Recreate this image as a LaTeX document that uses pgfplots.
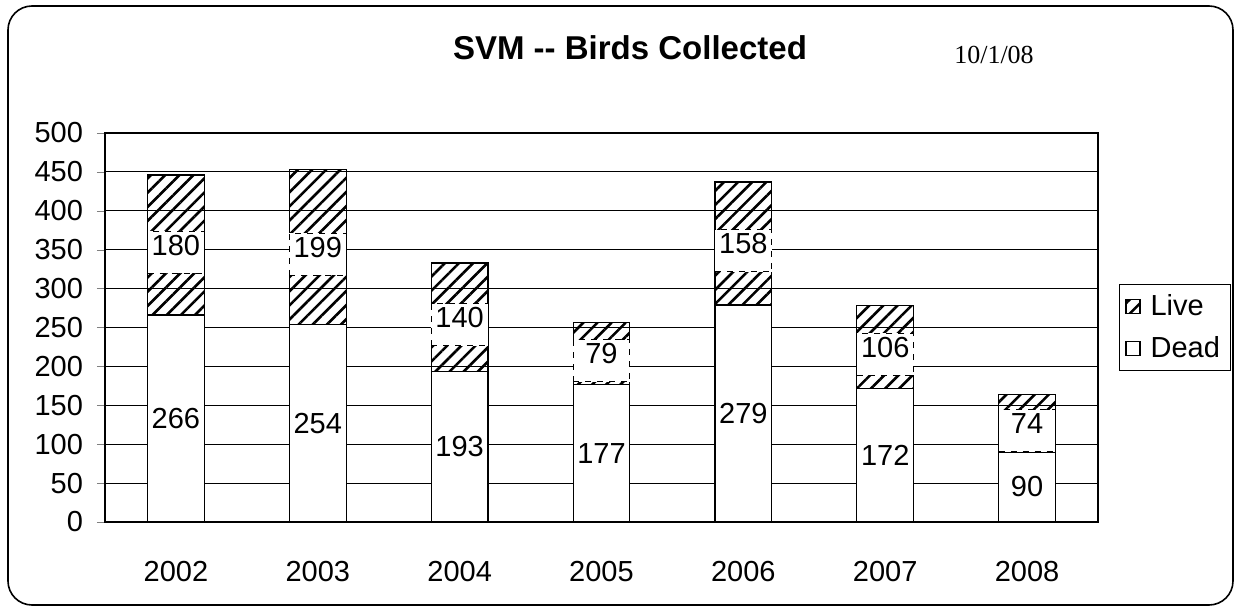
\documentclass[border=0pt]{standalone}
\usepackage{pgfplots}
\pgfplotsset{compat=1.18}
\usepackage{fontspec}
\setmainfont{Liberation Sans}
\newfontfamily\seriffont{Liberation Serif}
\usetikzlibrary{patterns.meta}
\begin{document}
\begin{tikzpicture}[x=1pt,y=1pt]
\useasboundingbox (0,0) rectangle (618,-304.5);
\draw[line width=0.8pt, rounded corners=12pt] (4,-3) rectangle (616.5,-302.5);
\node[font=\bfseries\fontsize{16.5}{19}\selectfont] at (315,-24) {SVM {-}{-} Birds Collected};
\node[font=\seriffont\fontsize{13}{15}\selectfont] at (497,-27.5) {10/1/08};
\begin{axis}[
  at={(52.5pt,-261pt)}, anchor=south west,
  scale only axis, width=496.5pt, height=194.5pt,
  ybar stacked, bar width=0.4,
  xmin=-0.5, xmax=6.5, ymin=0, ymax=500, enlargelimits=false,
  ytick={0,50,...,500},
  xtick={0,...,6},
  xticklabels={2002,2003,2004,2005,2006,2007,2008},
  major x tick style={draw=none},
  extra x ticks={-0.5,0.5,1.5,2.5,3.5,4.5,5.5,6.5},
  extra x tick labels={},
  extra x tick style={grid=none, major tick length=4pt, tick style={draw=black}},
  tick align=outside, major tick length=4pt,
  xtick pos=bottom, ytick pos=left,
  ymajorgrids, grid style={black, line width=0.5pt},
  axis line style={black, line width=0.6pt},
  /pgf/number format/assume math mode=true,
  tick label style={font=\fontsize{14.5}{17}\selectfont},
  xticklabel style={yshift=-12pt},
  yticklabel style={xshift=-3.5pt},
  reverse legend,
  legend style={at={(1,0.5)}, anchor=west, xshift=10.5pt, draw=black,
    font=\fontsize{14.5}{17}\selectfont, row sep=5pt, inner sep=3pt,
    /tikz/every odd column/.append style={column sep=3pt}},
  legend cell align=left,
  legend image code/.code={\draw[#1,draw=black,line width=0.6pt] (0pt,-3.5pt) rectangle (7pt,3.5pt);},
  every node near coord/.append style={font=\fontsize{14.5}{17}\selectfont, anchor=center},
]
\addplot[fill=white, draw=black, line width=0.6pt, nodes near coords]
  coordinates {(0,266) (1,254) (2,193) (3,177) (4,279) (5,172) (6,90)};
\addlegendentry{Dead}
\addplot[pattern={Lines[angle=45,distance=5pt,line width=1.3pt]}, draw=black, line width=0.6pt,
  nodes near coords,
  every node near coord/.append style={fill=white, draw=black, dashed, line width=0.5pt,
    inner xsep=0pt, inner ysep=0pt, minimum width=28.4pt, text height=12pt, text depth=9pt,
    anchor=base, yshift=-5.2pt}]
  coordinates {(0,180) (1,199) (2,140) (3,79) (4,158) (5,106) (6,74)};
\addlegendentry{Live}
\end{axis}
\end{tikzpicture}
\end{document}
